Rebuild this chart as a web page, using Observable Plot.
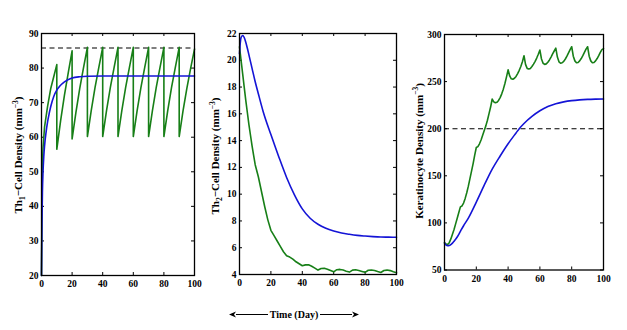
<!DOCTYPE html>
<html>
<head>
<meta charset="utf-8">
<script src="https://cdn.jsdelivr.net/npm/d3@7"></script>
<script src="https://cdn.jsdelivr.net/npm/@observablehq/plot@0.6"></script>
<style>
  html, body { margin: 0; padding: 0; background: #fff; }
  #wrap { position: relative; width: 627px; height: 330px; overflow: hidden; font-family: "Liberation Serif", "Times New Roman", serif; font-weight: bold; }
  .panel { position: absolute; top: 0; }
  .ylab { position: absolute; white-space: nowrap; font-size: 11px; transform: translate(-50%, -50%) rotate(-90deg); color: #000; }
  .ylab sub, .ylab sup { font-size: 7.5px; }
  #time { position: absolute; left: 229px; top: 307px; width: 130px; height: 14px; display: flex; align-items: center; font-size: 10px; }
  #time .ln { flex: 1; height: 1px; background: #000; position: relative; }
  #time .txt { padding: 0 2px; }
</style>
</head>
<body>
<div id="wrap"></div>
<script>
// ---------- shared ----------
const xTicks = [0, 20, 40, 60, 80, 100];

// ---------- Panel 1: Th1 cell density ----------
const th1Ticks = [20, 30, 40, 50, 60, 70, 80, 90];
const th1BlueDays = [0, 0.3, 0.6, 1, 1.5, 2, 3, 4, 5, 6, 8, 10, 12, 15, 20, 25, 30, 40, 60, 80, 100];
const th1Blue     = [20, 35, 44, 50, 54.5, 57.5, 61.5, 64.5, 66.8, 68.8, 71.8, 73.6, 74.8, 76, 77.1, 77.5, 77.65, 77.7, 77.7, 77.7, 77.7];
const th1GreenDays = [0, 0.5, 1, 2, 4, 6, 8, 10,
  10, 12.5, 15, 17.5, 20,
  20, 22.5, 25, 27.5, 30,
  30, 32.5, 35, 37.5, 40,
  40, 42.5, 45, 47.5, 50,
  50, 52.5, 55, 57.5, 60,
  60, 62.5, 65, 67.5, 70,
  70, 72.5, 75, 77.5, 80,
  80, 82.5, 85, 87.5, 90,
  90, 92.5, 95, 97.5, 100];
const th1Green = [20, 50, 57, 63, 69, 74, 77.5, 81,
  56.5, 64.8, 72.2, 78.7, 85,
  59.5, 67.2, 74.1, 80.2, 86,
  60.2, 67.7, 74.4, 80.3, 86,
  60.2, 67.7, 74.4, 80.3, 86,
  60.2, 67.7, 74.4, 80.3, 86,
  60.2, 67.7, 74.4, 80.3, 86,
  60.2, 67.7, 74.4, 80.3, 86,
  60.2, 67.7, 74.4, 80.3, 86,
  60.2, 67.6, 74.1, 80, 85.5];
const th1Threshold = [85.8];

// ---------- Panel 2: Th2 cell density ----------
const th2Ticks = [4, 6, 8, 10, 12, 14, 16, 18, 20, 22];
const th2BlueDays = [0, 0.5, 1, 2, 3, 4, 5, 6, 8, 10, 12, 15, 20, 25, 30, 35, 40, 45, 50, 55, 60, 65, 70, 75, 80, 85, 90, 95, 100];
const th2Blue     = [20.5, 21.3, 21.7, 21.85, 21.7, 21.35, 20.9, 20.4, 19.4, 18.4, 17.5, 16.2, 14.45, 12.8, 11.25, 9.95, 8.9, 8.2, 7.75, 7.45, 7.25, 7.1, 7.0, 6.92, 6.87, 6.83, 6.8, 6.79, 6.78];
const th2GreenDays = [0, 1, 2, 3, 4, 5, 6, 7, 8, 9, 10, 12, 14, 16, 18, 20, 22, 24, 26, 28, 30, 32, 34, 36, 38, 40,
  42, 44, 46, 48, 50, 52, 54, 56, 58, 60, 62, 64, 66, 68, 70, 72, 74, 76, 78, 80, 82, 84, 86, 88, 90, 92, 94, 96, 98, 100];
const th2Green = [21.0, 20.0, 19.0, 18.0, 17.0, 16.1, 15.2, 14.4, 13.6, 12.9, 12.2, 11.3, 10.2, 9.1, 8.1, 7.3, 6.9, 6.5, 6.1, 5.7, 5.4, 5.3, 5.15, 4.95, 4.8, 4.65,
  4.72, 4.72, 4.62, 4.48, 4.33, 4.45, 4.47, 4.4, 4.3, 4.2, 4.36, 4.38, 4.33, 4.25, 4.18, 4.33, 4.35, 4.3, 4.23, 4.16, 4.32, 4.34, 4.3, 4.22, 4.15, 4.3, 4.33, 4.29, 4.2, 4.13];

// ---------- Panel 3: Keratinocyte density ----------
const kerTicks = [50, 100, 150, 200, 250, 300];
const kerBlueDays = [0, 1, 2, 3, 4, 5, 6, 8, 10, 12, 15, 20, 25, 30, 35, 40, 45, 47, 50, 55, 60, 65, 70, 75, 80, 85, 90, 95, 100];
const kerBlue     = [78.5, 76.5, 75.8, 76, 77, 78.5, 80.5, 85, 91, 97, 105, 122, 140, 157, 171, 184, 195.5, 200, 205.5, 213, 219, 223.5, 226.5, 228.5, 229.8, 230.6, 231.1, 231.4, 231.6];
const kerGreenDays = [0, 1, 2, 3, 4, 5, 6, 7, 8, 9, 10,
  11, 12, 13, 14, 15, 16, 17, 18, 19, 20,
  21, 22, 23, 24, 25, 26, 27, 28, 29, 30,
  31, 32, 33, 34, 35, 36, 37, 38, 39, 40,
  41, 42, 43, 44, 45, 46, 47, 48, 49, 50,
  51, 52, 53, 54, 55, 56, 57, 58, 59, 60,
  61, 62, 63, 64, 65, 66, 67, 68, 69, 70,
  71, 72, 73, 74, 75, 76, 77, 78, 79, 80,
  81, 82, 83, 84, 85, 86, 87, 88, 89, 90,
  91, 92, 93, 94, 95, 96, 97, 98, 99, 100];
const kerGreen = [79, 77.5, 77, 79, 83, 88, 93, 99, 105, 111, 117,
  118, 121, 126, 132, 139, 147, 155, 163, 172, 180,
  181, 184, 188, 193, 198, 203, 209, 216, 223, 231.5,
  228.5, 227.5, 228, 230, 233, 237, 242, 248, 255, 262.5,
  256, 253, 252.5, 253.5, 255.5, 258.5, 262, 266, 271, 277.5,
  268, 264, 263.3, 264, 266, 268.5, 271.5, 275, 279, 283.5,
  274, 269.5, 268.3, 268.8, 270.5, 273, 276, 279.5, 282.5, 285.5,
  276, 271, 269.5, 270, 271.5, 274, 277, 280.5, 284, 287,
  277, 272, 270, 270.3, 272, 274.5, 277.5, 281, 284.5, 287,
  277, 272, 270, 270.3, 272, 274.5, 277.5, 281, 284, 285];
const kerThreshold = [200];

// ---------- drawing ----------
const BLUE = "#1414d6";
const GREEN = "#177f17";
const zip = (xs, ys) => xs.map((d, i) => ({day: d, v: ys[i]}));

function panel({left, width, height, ml, mr, mt, mb, domain, ticks, blue, green, dash}) {
  const pw = width - ml - mr, ph = height - mt - mb;
  const marks = [
    Plot.tickY(ticks, {y: d => d, stroke: "black", insetRight: pw - 3}),
    Plot.tickY(ticks, {y: d => d, stroke: "black", insetLeft: pw - 3}),
    Plot.tickX(xTicks, {x: d => d, stroke: "black", insetTop: ph - 3}),
    Plot.tickX(xTicks, {x: d => d, stroke: "black", insetBottom: ph - 3})
  ];
  if (dash) marks.push(Plot.ruleY(dash, {y: d => d, stroke: "black", strokeWidth: 1.1, strokeDasharray: "5,3.5"}));
  marks.push(
    Plot.line(green, {x: "day", y: "v", stroke: GREEN, strokeWidth: 1.6, curve: "linear"}),
    Plot.line(blue, {x: "day", y: "v", stroke: BLUE, strokeWidth: 1.6, curve: "monotone-x"}),
    Plot.frame({stroke: "black", strokeWidth: 1.3})
  );
  const svg = Plot.plot({
    width, height,
    marginLeft: ml, marginRight: mr, marginTop: mt, marginBottom: mb,
    style: {fontFamily: '"Liberation Serif", "Times New Roman", serif', fontSize: "9.5px", fontWeight: "bold", background: "transparent", color: "black", overflow: "visible"},
    x: {domain: [0, 100], ticks: xTicks, tickSize: 0, tickPadding: 5, label: null},
    y: {domain, ticks, tickSize: 0, tickPadding: 3, label: null},
    marks
  });
  svg.classList.add("panel");
  svg.style.left = left + "px";
  return svg;
}

const wrap = document.getElementById("wrap");
wrap.appendChild(panel({left: 0, width: 212, height: 295, ml: 41, mr: 18, mt: 33, mb: 20,
  domain: [20, 90], ticks: th1Ticks, blue: zip(th1BlueDays, th1Blue), green: zip(th1GreenDays, th1Green), dash: th1Threshold}));
wrap.appendChild(panel({left: 200, width: 212, height: 295, ml: 39, mr: 16, mt: 33, mb: 21,
  domain: [4, 22], ticks: th2Ticks, blue: zip(th2BlueDays, th2Blue), green: zip(th2GreenDays, th2Green), dash: null}));
wrap.appendChild(panel({left: 400, width: 220, height: 295, ml: 44, mr: 17, mt: 34, mb: 25.5,
  domain: [50, 300], ticks: kerTicks, blue: zip(kerBlueDays, kerBlue), green: zip(kerGreenDays, kerGreen), dash: kerThreshold}));

function ylab(html, x, y) {
  const d = document.createElement("div");
  d.className = "ylab";
  d.innerHTML = html;
  d.style.left = x + "px";
  d.style.top = y + "px";
  wrap.appendChild(d);
}
ylab("Th<sub>1</sub>\u2212Cell Density (mm<sup>\u22123</sup>)", 19, 155);
ylab("Th<sub>2</sub>\u2212Cell Density (mm<sup>\u22123</sup>)", 216, 156);
ylab("Keratinocyte Density (mm<sup>\u22123</sup>)", 418, 151);

const t = document.createElement("div");
t.id = "time";
t.innerHTML = '<svg width="7" height="7" viewBox="0 0 7 7"><path d="M0,3.5 L7,0.5 L5,3.5 L7,6.5 Z" fill="#000"/></svg>' +
  '<div class="ln"></div><span class="txt">Time (Day)</span><div class="ln"></div>' +
  '<svg width="7" height="7" viewBox="0 0 7 7"><path d="M7,3.5 L0,0.5 L2,3.5 L0,6.5 Z" fill="#000"/></svg>';
wrap.appendChild(t);
</script>
</body>
</html>
